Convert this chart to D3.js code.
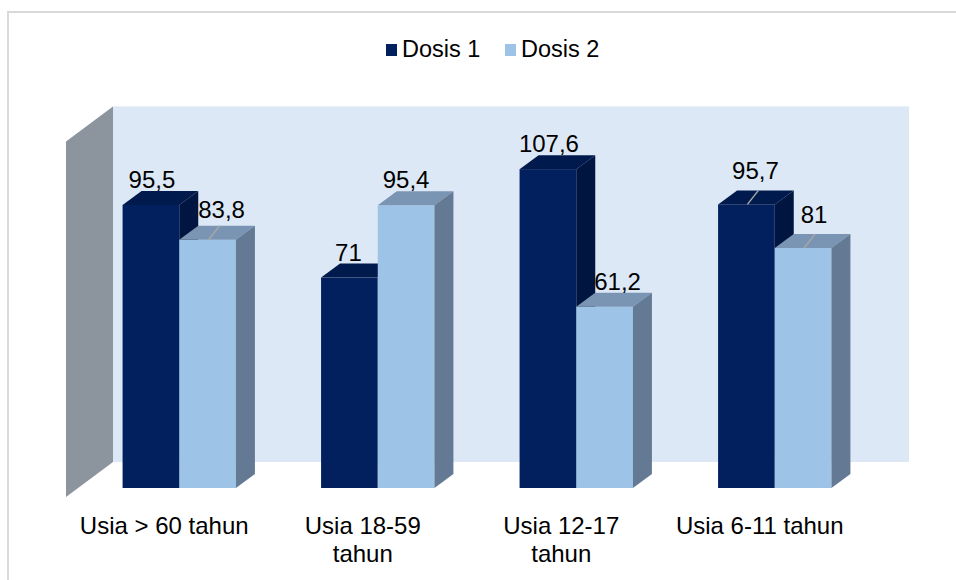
<!DOCTYPE html>
<html>
<head>
<meta charset="utf-8">
<script src="https://cdn.jsdelivr.net/npm/d3@7"></script>
<style>
  body { margin: 0; background: #fff; }
  text { font-family: "Liberation Sans", Arial, sans-serif; }
</style>
</head>
<body>
<div id="chart"></div>
<script>
const categories = ['Usia > 60 tahun', 'Usia 18-59 tahun', 'Usia 12-17 tahun', 'Usia 6-11 tahun'];
const categoryLines = [['Usia > 60 tahun'], ['Usia 18-59', 'tahun'], ['Usia 12-17', 'tahun'], ['Usia 6-11 tahun']];
const seriesNames = ['Dosis 1', 'Dosis 2'];
const dosis1 = [95.5, 71, 107.6, 95.7];
const dosis2 = [83.8, 95.4, 61.2, 81];
const valueLabels1 = ['95,5', '71', '107,6', '95,7'];
const valueLabels2 = ['83,8', '95,4', '61,2', '81'];

// label nudges as excel placed them [dx, dy], and which ones got a leader line
const nudge1 = [[1, 0], [-1, 0], [1, 0], [9, -8]];
const nudge2 = [[14, -5], [0, 0], [13, 0], [11, -8]];
const leader1 = [false, false, false, true];
const leader2 = [true, false, false, true];

const width = 956;
const height = 580;

const colors = {
  'Dosis 1': {front: '#02205e', top: '#011a4d', side: '#001640'},
  'Dosis 2': {front: '#9dc3e6', top: '#7a95b3', side: '#647a94'}
};

const svg = d3.select('#chart').append('svg')
  .attr('width', width).attr('height', height);

// outer border (top + left only visible)
svg.append('path')
  .attr('d', 'M8,580 L8,12 L956,12')
  .attr('fill', 'none').attr('stroke', '#d9d9d9').attr('stroke-width', 2);

const x = d3.scaleBand().domain(categories).range([80, 874]).paddingInner(0.429).paddingOuter(0.2145);
const xs = d3.scaleBand().domain(seriesNames).range([0, x.bandwidth()]);
const y = d3.scaleLinear().domain([0, 120]).range([488, 132.4]);

// bar depth and wall depth
const bdx = 19, bdy = -14;
const wallBack = {dx: 36, dy: -26};   // from bar front plane to back wall
const wallFront = {dx: -11, dy: 9};   // from bar front plane to floor front edge

// back wall
svg.append('rect')
  .attr('x', 113).attr('y', y(120) + wallBack.dy)
  .attr('width', 909 - 113).attr('height', y(0) - y(120))
  .attr('fill', '#dde8f6');

// left side wall
const sideWall = [
  [66, y(120) + wallFront.dy],
  [113, y(120) + wallBack.dy],
  [113, y(0) + wallBack.dy],
  [66, y(0) + wallFront.dy]
];
svg.append('polygon')
  .attr('points', sideWall.map(p => p.join(',')).join(' '))
  .attr('fill', '#8c959d');

const bars = [];
categories.forEach((c, i) => {
  bars.push({cat: c, s: 'Dosis 1', v: dosis1[i], label: valueLabels1[i], nudge: nudge1[i], leader: leader1[i]});
  bars.push({cat: c, s: 'Dosis 2', v: dosis2[i], label: valueLabels2[i], nudge: nudge2[i], leader: leader2[i]});
});

const barG = svg.append('g');
bars.forEach(d => {
  const x0 = x(d.cat) + xs(d.s);
  const x1 = x0 + xs.bandwidth();
  const yt = y(d.v);
  const yb = y(0);
  const g = barG.append('g');
  g.append('rect')
    .attr('x', x0).attr('y', yt).attr('width', x1 - x0).attr('height', yb - yt)
    .attr('fill', colors[d.s].front);
  g.append('polygon')
    .attr('points', [[x0, yt], [x0 + bdx, yt + bdy], [x1 + bdx, yt + bdy], [x1, yt]].map(p => p.join(',')).join(' '))
    .attr('fill', colors[d.s].top);
  g.append('polygon')
    .attr('points', [[x1, yt], [x1 + bdx, yt + bdy], [x1 + bdx, yb + bdy], [x1, yb]].map(p => p.join(',')).join(' '))
    .attr('fill', colors[d.s].side);
});

// value labels
const labelG = svg.append('g');
bars.forEach(d => {
  const cx = x(d.cat) + xs(d.s) + xs.bandwidth() / 2;
  const yBack = y(d.v) + bdy;
  if (d.leader) {
    labelG.append('line')
      .attr('x1', cx + 12).attr('y1', yBack)
      .attr('x2', cx + 1).attr('y2', y(d.v))
      .attr('stroke', '#a6a6a6').attr('stroke-width', 1.5);
  }
  labelG.append('text')
    .attr('x', cx + d.nudge[0]).attr('y', yBack - 3 + d.nudge[1])
    .attr('text-anchor', 'middle')
    .attr('font-size', 24)
    .attr('fill', '#000')
    .text(d.label);
});

// category labels sit under the front edge of the floor, a bit left of the bars
const labelShift = -15;
svg.append('g').selectAll('text')
  .data(categories)
  .enter()
  .append('text')
  .attr('x', d => x(d) + x.bandwidth() / 2 + labelShift)
  .attr('y', 534)
  .attr('text-anchor', 'middle')
  .attr('font-size', 24)
  .attr('fill', '#000')
  .each(function (d, i) {
    const t = d3.select(this);
    categoryLines[i].forEach((line, j) => {
      t.append('tspan').attr('x', x(d) + x.bandwidth() / 2 + labelShift).attr('dy', j === 0 ? 0 : 28).text(line);
    });
  });

// legend
const legendX = [386, 505];
const legend = svg.append('g').selectAll('g')
  .data(seriesNames)
  .enter()
  .append('g');
legend.append('rect')
  .attr('x', (d, i) => legendX[i]).attr('y', 44)
  .attr('width', 11).attr('height', 12)
  .attr('fill', d => colors[d].front);
legend.append('text')
  .attr('x', (d, i) => legendX[i] + 16).attr('y', 57)
  .attr('font-size', 23.5)
  .attr('fill', '#000')
  .text(d => d);
</script>
</body>
</html>
